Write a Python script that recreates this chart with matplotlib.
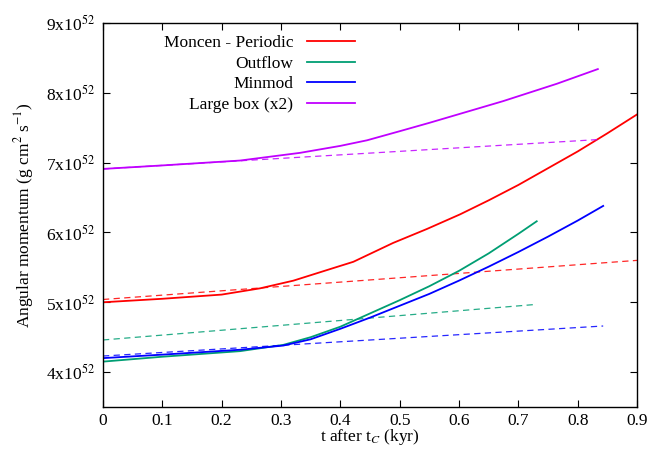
import matplotlib
matplotlib.use("Agg")
import matplotlib.pyplot as plt
import numpy as np

plt.rcParams['font.family'] = ['Liberation Serif', 'DejaVu Serif']
plt.rcParams['mathtext.fontset'] = 'stix'

# angular momentum in units of 1e52 g cm^2 s^-1, time in kyr
t_periodic = [0.0, 0.1, 0.2, 0.265, 0.321, 0.377, 0.422, 0.489, 0.546, 0.602, 0.65, 0.7, 0.75, 0.8, 0.85, 0.9]
L_periodic = [5.0, 5.05, 5.11, 5.2, 5.31, 5.46, 5.58, 5.85, 6.05, 6.26, 6.46, 6.68, 6.92, 7.16, 7.42, 7.69]

t_outflow = [0.0, 0.1, 0.231, 0.304, 0.35, 0.4, 0.45, 0.5, 0.55, 0.6, 0.65, 0.7, 0.731]
L_outflow = [4.15, 4.22, 4.3, 4.39, 4.5, 4.65, 4.84, 5.03, 5.23, 5.45, 5.7, 5.98, 6.16]

t_minmod = [0.0, 0.1, 0.231, 0.304, 0.35, 0.4, 0.45, 0.5, 0.55, 0.6, 0.65, 0.7, 0.75, 0.8, 0.843]
L_minmod = [4.2, 4.25, 4.32, 4.38, 4.47, 4.62, 4.78, 4.95, 5.12, 5.31, 5.51, 5.72, 5.94, 6.17, 6.38]

t_large = [0.0, 0.1, 0.231, 0.332, 0.4, 0.445, 0.5, 0.55, 0.602, 0.674, 0.765, 0.834]
L_large = [6.91, 6.96, 7.03, 7.14, 7.24, 7.32, 7.45, 7.57, 7.7, 7.88, 8.13, 8.34]

# linear fits (dashed), start/end points
fit_periodic = ([0.0, 0.9], [5.04, 5.6])
fit_outflow = ([0.0, 0.731], [4.46, 4.97])
fit_minmod = ([0.0, 0.843], [4.23, 4.66])
fit_large = ([0.0, 0.834], [6.91, 7.33])

labels = ['Moncen - Periodic', 'Outflow', 'Minmod', 'Large box (x2)']
colors = ['#ff0000', '#009e73', '#0000ff', '#c000ff']

fig = plt.figure(figsize=(6.53, 4.5), dpi=100)
ax = fig.add_axes([103 / 653, 1 - 407 / 450, 534 / 653, 384 / 450])

series = [(t_periodic, L_periodic, fit_periodic),
          (t_outflow, L_outflow, fit_outflow),
          (t_minmod, L_minmod, fit_minmod),
          (t_large, L_large, fit_large)]

for (t, L, fit), lab, c in zip(series, labels, colors):
    ax.plot(fit[0], fit[1], color=c, lw=0.9, alpha=0.85, linestyle=(0, (5, 3.5)))
    ax.plot(t, L, color=c, lw=1.3, label=lab)

ax.set_xlim(0, 0.9)
ax.set_ylim(3.5, 9)
ax.set_xticks(np.arange(0, 0.91, 0.1))
ax.set_xticklabels(['0'] + ['%.1f' % v for v in np.arange(0.1, 0.91, 0.1)])
yt = [4, 5, 6, 7, 8, 9]
ax.set_yticks(yt)
ax.set_yticklabels([r'%dx10$^{52}$' % v for v in yt])
ax.tick_params(direction='in', top=True, right=True, length=5, width=0.8,
               labelsize=12.5, pad=6)
ax.tick_params(axis='x', pad=4)
for s in ax.spines.values():
    s.set_linewidth(1.0)

ax.set_xlabel(r't after t$_C$ (kyr)', fontsize=12.5, labelpad=-1)
ax.set_ylabel(r'Angular momentum (g cm$^2$ s$^{-1}$)', fontsize=12.5, labelpad=7)

ax.legend(loc='upper left', bbox_to_anchor=(0.091, 1.0), frameon=False,
          markerfirst=False, fontsize=12.5, handlelength=2.75,
          labelspacing=0.25, handletextpad=0.8, borderaxespad=0.3)
for txt in ax.get_legend().get_texts():
    txt.set_ha('right')
ax.get_legend()._legend_box.align = 'right'

fig.savefig('out.png', dpi=100)
